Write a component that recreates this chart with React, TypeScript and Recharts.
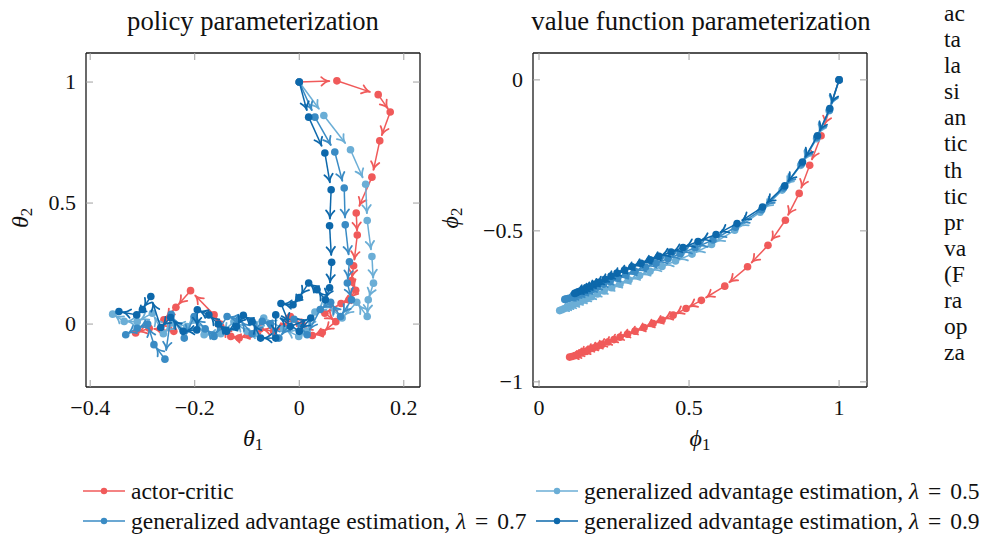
import React from 'react';
import { ComposedChart, Line, XAxis, YAxis } from 'recharts';

const FONT = '"Liberation Serif", "DejaVu Serif", serif';

const RED = '#f05a5a';
const LIGHT = '#6baed6';
const MEDIUM = '#3a8bc4';
const DARK = '#0d68ab';

// ---- policy parameterization (theta1, theta2) ----
const policyActorCritic: [number, number][] = [
  [0, 1], [0.072, 1.005], [0.151, 0.948], [0.174, 0.876], [0.154, 0.757], [0.139, 0.607],
  [0.109, 0.459], [0.111, 0.368], [0.104, 0.241], [0.1, 0.18], [0.108, 0.14], [0.095, 0.1],
  [0.08, 0.085], [0.049, 0.045], [0.07, 0.01], [0.044, -0.035], [0.025, -0.047], [0.006, -0.003],
  [-0.017, 0.031], [-0.03, -0.01], [-0.049, -0.03], [-0.075, -0.02], [-0.096, -0.044],
  [-0.115, -0.058], [-0.131, -0.051], [-0.15, -0.01], [-0.163, 0.038], [-0.208, 0.138],
  [-0.236, 0.069], [-0.259, 0.018], [-0.24, -0.03], [-0.287, -0.017], [-0.313, -0.037],
];
const policyGae05: [number, number][] = [
  [0, 1], [0.047, 0.862], [0.098, 0.72], [0.127, 0.578], [0.13, 0.428], [0.139, 0.279],
  [0.142, 0.169], [0.132, 0.1], [0.13, 0.031], [0.11, 0.09], [0.082, 0.025], [0.053, 0.08],
  [0.03, 0.05], [0.015, -0.03], [-0.001, -0.051], [-0.03, -0.02], [-0.068, 0.025], [-0.085, -0.04],
  [-0.1, -0.03], [-0.125, 0.01], [-0.15, -0.04], [-0.182, -0.044], [-0.2, 0.02], [-0.215, -0.01],
  [-0.24, 0.004], [-0.26, -0.04], [-0.281, 0.045], [-0.31, 0.01], [-0.335, 0.011], [-0.357, 0.041],
];
const policyGae07: [number, number][] = [
  [0, 1], [0.03, 0.855], [0.068, 0.711], [0.086, 0.562], [0.088, 0.41], [0.096, 0.257],
  [0.092, 0.17], [0.1, 0.1], [0.079, 0.031], [0.06, 0.09], [0.04, 0.06], [0.015, -0.044],
  [-0.01, 0.02], [-0.039, -0.058], [-0.055, 0.0], [-0.071, 0.011], [-0.09, -0.04], [-0.115, 0.02],
  [-0.138, 0.031], [-0.163, -0.051], [-0.18, -0.02], [-0.201, 0.031], [-0.22, -0.058],
  [-0.245, 0.04], [-0.257, -0.145], [-0.278, -0.085], [-0.29, 0.0], [-0.31, -0.017], [-0.332, -0.044],
];
const policyGae09: [number, number][] = [
  [0, 1], [0.018, 0.855], [0.049, 0.707], [0.061, 0.555], [0.058, 0.406], [0.062, 0.255],
  [0.058, 0.15], [0.05, 0.1], [0.034, 0.142], [0.018, 0.17], [0.0, 0.11], [-0.012, 0.08],
  [-0.035, 0.085], [-0.017, -0.01], [0.022, 0.025], [0.0, -0.03], [-0.045, 0.038], [-0.045, -0.058],
  [-0.074, -0.058], [-0.09, 0.01], [-0.107, 0.036], [-0.12, -0.01], [-0.139, -0.03], [-0.155, 0.0],
  [-0.173, 0.038], [-0.195, 0.059], [-0.196, -0.024], [-0.222, -0.03], [-0.246, 0.027],
  [-0.265, -0.014], [-0.284, 0.114], [-0.3, 0.06], [-0.311, 0.038], [-0.345, 0.052],
];

// ---- value function parameterization (phi1, phi2) ----
const valueActorCritic: [number, number][] = [
  [1, 0], [0.94, -0.185], [0.902, -0.283], [0.867, -0.376], [0.821, -0.465], [0.763, -0.548],
  [0.695, -0.619], [0.619, -0.683], [0.541, -0.73], [0.49, -0.757], [0.447, -0.779], [0.41, -0.795],
  [0.38, -0.807], [0.35, -0.82], [0.32, -0.832], [0.295, -0.842], [0.27, -0.852], [0.25, -0.86],
  [0.23, -0.868], [0.21, -0.876], [0.195, -0.882], [0.18, -0.888], [0.165, -0.894], [0.152, -0.9],
  [0.14, -0.904], [0.13, -0.909], [0.12, -0.913], [0.11, -0.916], [0.102, -0.918],
];
const valueGae05: [number, number][] = [
  [1, 0], [0.967, -0.102], [0.925, -0.195], [0.872, -0.283], [0.81, -0.365], [0.737, -0.438],
  [0.652, -0.498], [0.575, -0.545], [0.51, -0.577], [0.455, -0.6], [0.41, -0.618], [0.37, -0.634],
  [0.335, -0.648], [0.3, -0.663], [0.27, -0.676], [0.242, -0.688], [0.217, -0.699], [0.195, -0.709],
  [0.175, -0.718], [0.157, -0.726], [0.141, -0.733], [0.127, -0.739], [0.114, -0.745], [0.102, -0.75],
  [0.092, -0.754], [0.083, -0.758], [0.076, -0.761], [0.069, -0.764],
];
const valueGae07: [number, number][] = [
  [1, 0], [0.968, -0.1], [0.926, -0.19], [0.875, -0.278], [0.815, -0.358], [0.742, -0.43],
  [0.655, -0.488], [0.58, -0.53], [0.52, -0.556], [0.47, -0.576], [0.43, -0.592], [0.39, -0.607],
  [0.355, -0.62], [0.32, -0.634], [0.29, -0.646], [0.262, -0.657], [0.237, -0.668], [0.215, -0.677],
  [0.195, -0.686], [0.177, -0.694], [0.16, -0.701], [0.145, -0.707], [0.132, -0.712], [0.12, -0.716],
  [0.11, -0.72], [0.1, -0.723], [0.092, -0.725], [0.086, -0.727],
];
const valueGae09: [number, number][] = [
  [1, 0], [0.969, -0.095], [0.928, -0.185], [0.878, -0.272], [0.819, -0.351], [0.745, -0.421],
  [0.66, -0.476], [0.59, -0.512], [0.53, -0.535], [0.48, -0.555], [0.44, -0.57], [0.4, -0.584],
  [0.37, -0.596], [0.34, -0.607], [0.31, -0.619], [0.285, -0.63], [0.26, -0.64], [0.24, -0.65],
  [0.22, -0.66], [0.2, -0.67], [0.185, -0.677], [0.17, -0.684], [0.158, -0.69], [0.147, -0.695],
  [0.138, -0.699], [0.13, -0.702], [0.124, -0.705], [0.119, -0.707],
];

const policyXTicks = [-0.4, -0.2, 0, 0.2];
const policyYTicks = [0, 0.5, 1];
const valueXTicks = [0, 0.5, 1];
const valueYTicks = [-1, -0.5, 0];

const seriesNames = [
  'actor-critic',
  'generalized advantage estimation, λ = 0.5',
  'generalized advantage estimation, λ = 0.7',
  'generalized advantage estimation, λ = 0.9',
];
const seriesColors = [RED, LIGHT, MEDIUM, DARK];

const sideFragments = ['ac', 'ta', 'la', 'si', 'an', 'tic', 'th', 'tic', 'pr', 'va', '(F', 'ra', 'op', 'za'];

const toRows = (pts: [number, number][]) => pts.map(([x, y]) => ({ x, y }));

const fmt = (v: number) => (v < 0 ? '\u2212' + String(Math.abs(v)) : String(v));

const TICK = '#a0a0a0';
const TL = 7;

const BottomTick = (p: any) => (
  <g>
    <line x1={p.x} y1={p.y} x2={p.x} y2={p.y - TL} stroke={TICK} strokeWidth={1} />
    <text x={p.x} y={p.y + 28} textAnchor="middle" fontFamily={FONT} fontSize={22} fill="#111">
      {fmt(p.payload.value)}
    </text>
  </g>
);
const TopTick = (p: any) => (
  <line x1={p.x} y1={p.y} x2={p.x} y2={p.y + TL} stroke={TICK} strokeWidth={1} />
);
const LeftTick = (p: any) => (
  <g>
    <line x1={p.x} y1={p.y} x2={p.x + TL} y2={p.y} stroke={TICK} strokeWidth={1} />
    <text x={p.x - 10} y={p.y + 7} textAnchor="end" fontFamily={FONT} fontSize={22} fill="#111">
      {fmt(p.payload.value)}
    </text>
  </g>
);
const RightTick = (p: any) => (
  <line x1={p.x} y1={p.y} x2={p.x - TL} y2={p.y} stroke={TICK} strokeWidth={1} />
);

function makeDot(color: string) {
  return (props: any) => {
    const { cx, cy, index, points } = props;
    if (cx == null || cy == null) return <g key={`d${index}`} />;
    const next = points ? points[index + 1] : null;
    let arrow: React.ReactNode = null;
    if (next && next.x != null && next.y != null) {
      const dx = next.x - cx;
      const dy = next.y - cy;
      const len = Math.hypot(dx, dy);
      if (len > 0.3) {
        const tx = cx + dx * 0.8;
        const ty = cy + dy * 0.8;
        const ux = dx / len;
        const uy = dy / len;
        const hl = 8;
        const hw = 4.2;
        const bx = tx - ux * hl;
        const by = ty - uy * hl;
        const p1x = bx - uy * hw;
        const p1y = by + ux * hw;
        const p2x = bx + uy * hw;
        const p2y = by - ux * hw;
        arrow = (
          <g>
            <line x1={cx} y1={cy} x2={tx} y2={ty} stroke={color} strokeWidth={1.5} />
            <path
              d={`M${p1x},${p1y} Q${tx - ux * 3.5},${ty - uy * 3.5} ${tx},${ty} Q${tx - ux * 3.5},${ty - uy * 3.5} ${p2x},${p2y}`}
              fill="none"
              stroke={color}
              strokeWidth={1.8}
              strokeLinecap="round"
              strokeLinejoin="round"
            />
          </g>
        );
      }
    }
    return (
      <g key={`d${index}`}>
        <circle cx={cx} cy={cy} r={3.8} fill={color} />
        {arrow}
      </g>
    );
  };
}

type PanelProps = {
  left: number;
  plotLeft: number;
  xDomain: [number, number];
  yDomain: [number, number];
  xTicks: number[];
  yTicks: number[];
  series: { data: [number, number][]; color: string; name: string }[];
};

const PLOT = 334;
const PLOT_TOP = 53;
const AX_B = 40;
const AX_T = 10;
const AX_L = 60;
const AX_R = 10;

function Panel({ left, plotLeft, xDomain, yDomain, xTicks, yTicks, series }: PanelProps) {
  const width = 440;
  const height = 534;
  const mLeft = plotLeft - left;
  const mRight = width - mLeft - PLOT;
  const axisLine = { stroke: '#1a1a1a', strokeWidth: 1.3 };
  return (
    <div style={{ position: 'absolute', left, top: 0 }}>
      <ComposedChart
        width={width}
        height={height}
        margin={{
          top: PLOT_TOP - AX_T,
          right: mRight - AX_R,
          bottom: height - PLOT_TOP - PLOT - AX_B,
          left: mLeft - AX_L,
        }}
      >
        <XAxis xAxisId="b" dataKey="x" type="number" domain={xDomain} allowDataOverflow ticks={xTicks}
          interval={0} height={AX_B} tickSize={0} tickMargin={0} tickLine={false} axisLine={axisLine} tick={BottomTick} />
        <XAxis xAxisId="t" orientation="top" dataKey="x" type="number" domain={xDomain} allowDataOverflow ticks={xTicks}
          interval={0} height={AX_T} tickSize={0} tickMargin={0} tickLine={false} axisLine={axisLine} tick={TopTick} />
        <YAxis yAxisId="l" dataKey="y" type="number" domain={yDomain} allowDataOverflow ticks={yTicks}
          interval={0} width={AX_L} tickSize={0} tickMargin={0} tickLine={false} axisLine={axisLine} tick={LeftTick} />
        <YAxis yAxisId="r" orientation="right" dataKey="y" type="number" domain={yDomain} allowDataOverflow ticks={yTicks}
          interval={0} width={AX_R} tickSize={0} tickMargin={0} tickLine={false} axisLine={axisLine} tick={RightTick} />
        {series.map((s) => (
          <Line
            key={s.name}
            name={s.name}
            xAxisId="b"
            yAxisId="l"
            data={toRows(s.data)}
            dataKey="y"
            stroke="none"
            dot={makeDot(s.color)}
            activeDot={false}
            legendType="none"
            isAnimationActive={false}
          />
        ))}
      </ComposedChart>
    </div>
  );
}

const Abs = ({ x, y, children, rotate, size = 24 }: any) => (
  <div
    style={{
      position: 'absolute',
      left: x,
      top: y,
      transform: `translate(-50%, -50%)${rotate ? ` rotate(${rotate}deg)` : ''}`,
      fontFamily: FONT,
      fontSize: size,
      whiteSpace: 'nowrap',
      color: '#111',
      lineHeight: 1,
    }}
  >
    {children}
  </div>
);

const Sym = ({ s, sub }: { s: string; sub: string }) => (
  <span>
    <i>{s}</i>
    <span style={{ fontSize: '0.7em', verticalAlign: '-0.25em' }}>{sub}</span>
  </span>
);

const LegendLabel = ({ text }: { text: string }) => {
  const i = text.indexOf('λ');
  if (i < 0) return <span>{text}</span>;
  const rest = text.slice(i + 1).replace('=', '').trim();
  return (
    <span>
      {text.slice(0, i)}
      <i>λ</i>
      <span style={{ margin: '0 3px' }}> = </span>
      {rest}
    </span>
  );
};

const LegendItem = ({ x, y, color, text }: any) => (
  <div style={{ position: 'absolute', left: x, top: y - 14, height: 28, display: 'flex', alignItems: 'center' }}>
    <svg width={44} height={28} style={{ display: 'block' }}>
      <line x1={1} y1={14} x2={43} y2={14} stroke={color} strokeWidth={1.6} />
      <circle cx={22} cy={14} r={3.2} fill={color} />
    </svg>
    <span style={{ marginLeft: 5, fontFamily: FONT, fontSize: 23.5, color: '#111', whiteSpace: 'nowrap' }}>
      <LegendLabel text={text} />
    </span>
  </div>
);

export default function App() {
  const policySeries = [
    { data: policyActorCritic, color: RED, name: seriesNames[0] },
    { data: policyGae05, color: LIGHT, name: seriesNames[1] },
    { data: policyGae07, color: MEDIUM, name: seriesNames[2] },
    { data: policyGae09, color: DARK, name: seriesNames[3] },
  ];
  const valueSeries = [
    { data: valueActorCritic, color: RED, name: seriesNames[0] },
    { data: valueGae05, color: LIGHT, name: seriesNames[1] },
    { data: valueGae07, color: MEDIUM, name: seriesNames[2] },
    { data: valueGae09, color: DARK, name: seriesNames[3] },
  ];
  return (
    <div style={{ position: 'absolute', left: 0, top: 0, width: 982, height: 534, overflow: 'hidden', background: '#fff' }}>
      <Panel left={0} plotLeft={86} xDomain={[-0.408, 0.231]} yDomain={[-0.26, 1.12]}
        xTicks={policyXTicks} yTicks={policyYTicks} series={policySeries} />
      <Panel left={460} plotLeft={533} xDomain={[-0.02, 1.093]} yDomain={[-1.017, 0.089]}
        xTicks={valueXTicks} yTicks={valueYTicks} series={valueSeries} />

      <Abs x={253} y={21} size={26.6}>policy parameterization</Abs>
      <Abs x={701} y={21} size={26.7}>value function parameterization</Abs>
      <Abs x={253} y={440}><Sym s="θ" sub="1" /></Abs>
      <Abs x={700} y={440}><Sym s="ϕ" sub="1" /></Abs>
      <Abs x={22} y={218} rotate={-90}><Sym s="θ" sub="2" /></Abs>
      <Abs x={452} y={218} rotate={-90}><Sym s="ϕ" sub="2" /></Abs>

      <LegendItem x={82} y={491} color={seriesColors[0]} text={seriesNames[0]} />
      <LegendItem x={535} y={491} color={seriesColors[1]} text={seriesNames[1]} />
      <LegendItem x={82} y={521} color={seriesColors[2]} text={seriesNames[2]} />
      <LegendItem x={535} y={521} color={seriesColors[3]} text={seriesNames[3]} />

      <div style={{ position: 'absolute', left: 944, top: 0, width: 38, fontFamily: FONT, fontSize: 23.5, lineHeight: '26.1px', color: '#111' }}>
        {sideFragments.map((w, i) => (
          <div key={i} style={{ whiteSpace: 'nowrap' }}>{w}</div>
        ))}
      </div>
    </div>
  );
}
